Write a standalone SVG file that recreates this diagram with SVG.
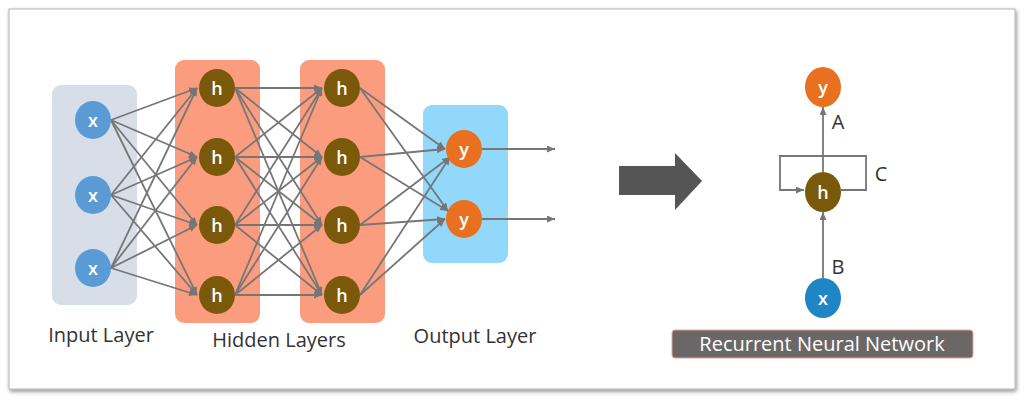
<svg xmlns="http://www.w3.org/2000/svg" width="1024" height="400" viewBox="0 0 1024 400">
<defs>
<marker id="ah" markerWidth="8" markerHeight="7" refX="8" refY="3.5" orient="auto" markerUnits="userSpaceOnUse">
<path d="M0,0 L8,3.5 L0,7 Z" fill="#767676"/>
</marker>
<filter id="sh" x="-5%" y="-5%" width="110%" height="110%">
<feGaussianBlur in="SourceAlpha" stdDeviation="2"/>
<feOffset dx="1" dy="2"/>
<feComponentTransfer><feFuncA type="linear" slope="0.45"/></feComponentTransfer>
<feMerge><feMergeNode/><feMergeNode in="SourceGraphic"/></feMerge>
</filter>
</defs>
<style>
.lbl{font-family:"Open Sans","Liberation Sans",sans-serif;font-size:20px;fill:#333;text-anchor:middle}
.nt{font-family:"Open Sans","Liberation Sans",sans-serif;font-size:18px;font-weight:600;fill:#fff;text-anchor:middle;dominant-baseline:central}
.c{stroke:#767676;stroke-width:1.8;fill:none;marker-end:url(#ah)}
.xn{fill:#5B9BD5}
.hn{fill:#7A5A0A}
.yn{fill:#E8701E}
</style>
<rect width="1024" height="400" fill="#fff"/>
<rect x="9" y="9" width="1006" height="380" fill="#fff" stroke="#b5b5b5" stroke-width="1" filter="url(#sh)"/>

<g id="panels">
<rect x="52" y="85" width="85" height="220" rx="9" fill="#D8DEE8"/>
<rect x="175" y="60" width="85" height="263" rx="9" fill="#FC9C7E"/>
<rect x="300" y="60" width="85" height="263" rx="9" fill="#FC9C7E"/>
<rect x="423" y="105" width="85" height="158" rx="9" fill="#92D8FA"/>
</g>

<g id="connectors">
<line class="c" x1="111" y1="120" x2="197" y2="88"/>
<line class="c" x1="111" y1="120" x2="197" y2="157"/>
<line class="c" x1="111" y1="120" x2="197" y2="225"/>
<line class="c" x1="111" y1="120" x2="197" y2="295"/>
<line class="c" x1="111" y1="195" x2="197" y2="88"/>
<line class="c" x1="111" y1="195" x2="197" y2="157"/>
<line class="c" x1="111" y1="195" x2="197" y2="225"/>
<line class="c" x1="111" y1="195" x2="197" y2="295"/>
<line class="c" x1="111" y1="268" x2="197" y2="88"/>
<line class="c" x1="111" y1="268" x2="197" y2="157"/>
<line class="c" x1="111" y1="268" x2="197" y2="225"/>
<line class="c" x1="111" y1="268" x2="197" y2="295"/>
<line class="c" x1="235" y1="88" x2="322" y2="88"/>
<line class="c" x1="235" y1="88" x2="322" y2="157"/>
<line class="c" x1="235" y1="88" x2="322" y2="225"/>
<line class="c" x1="235" y1="88" x2="322" y2="295"/>
<line class="c" x1="235" y1="157" x2="322" y2="88"/>
<line class="c" x1="235" y1="157" x2="322" y2="157"/>
<line class="c" x1="235" y1="157" x2="322" y2="225"/>
<line class="c" x1="235" y1="157" x2="322" y2="295"/>
<line class="c" x1="235" y1="225" x2="322" y2="88"/>
<line class="c" x1="235" y1="225" x2="322" y2="157"/>
<line class="c" x1="235" y1="225" x2="322" y2="225"/>
<line class="c" x1="235" y1="225" x2="322" y2="295"/>
<line class="c" x1="235" y1="295" x2="322" y2="88"/>
<line class="c" x1="235" y1="295" x2="322" y2="157"/>
<line class="c" x1="235" y1="295" x2="322" y2="225"/>
<line class="c" x1="235" y1="295" x2="322" y2="295"/>
<line class="c" x1="360" y1="88" x2="445" y2="149"/>
<line class="c" x1="360" y1="88" x2="448" y2="211"/>
<line class="c" x1="360" y1="157" x2="445" y2="149"/>
<line class="c" x1="360" y1="157" x2="448" y2="211"/>
<line class="c" x1="360" y1="225" x2="450" y2="157"/>
<line class="c" x1="360" y1="225" x2="445" y2="219"/>
<line class="c" x1="360" y1="295" x2="450" y2="157"/>
<line class="c" x1="360" y1="295" x2="445" y2="219"/>
<line class="c" x1="482" y1="149" x2="555" y2="149"/>
<line class="c" x1="482" y1="219" x2="555" y2="219"/>
<line class="c" x1="823" y1="172" x2="823" y2="107"/>
<line class="c" x1="823" y1="278" x2="823" y2="212"/>
<path class="c" d="M841,190 H866 V156 H780 V190 H804"/>
</g>

<g id="big-arrow">
<path d="M619,166 H675 V153 L702,181 L675,210 V195 H619 Z" fill="#555"/>
</g>

<g id="input-nodes">
<g id="x1"><ellipse class="xn" cx="93" cy="120" rx="18" ry="19"/><text class="nt" x="93" y="120">x</text></g>
<g id="x2"><ellipse class="xn" cx="93" cy="195" rx="18" ry="19"/><text class="nt" x="93" y="195">x</text></g>
<g id="x3"><ellipse class="xn" cx="93" cy="268" rx="18" ry="19"/><text class="nt" x="93" y="268">x</text></g>
</g>
<g id="hidden1">
<g id="h11"><ellipse class="hn" cx="217" cy="88" rx="18" ry="19"/><text class="nt" x="217" y="88">h</text></g>
<g id="h12"><ellipse class="hn" cx="217" cy="157" rx="18" ry="19"/><text class="nt" x="217" y="157">h</text></g>
<g id="h13"><ellipse class="hn" cx="217" cy="225" rx="18" ry="19"/><text class="nt" x="217" y="225">h</text></g>
<g id="h14"><ellipse class="hn" cx="217" cy="295" rx="18" ry="19"/><text class="nt" x="217" y="295">h</text></g>
</g>
<g id="hidden2">
<g id="h21"><ellipse class="hn" cx="342" cy="88" rx="18" ry="19"/><text class="nt" x="342" y="88">h</text></g>
<g id="h22"><ellipse class="hn" cx="342" cy="157" rx="18" ry="19"/><text class="nt" x="342" y="157">h</text></g>
<g id="h23"><ellipse class="hn" cx="342" cy="225" rx="18" ry="19"/><text class="nt" x="342" y="225">h</text></g>
<g id="h24"><ellipse class="hn" cx="342" cy="295" rx="18" ry="19"/><text class="nt" x="342" y="295">h</text></g>
</g>
<g id="outputs">
<g id="y1"><ellipse class="yn" cx="464" cy="149" rx="18" ry="19"/><text class="nt" x="464" y="149">y</text></g>
<g id="y2"><ellipse class="yn" cx="464" cy="219" rx="18" ry="19"/><text class="nt" x="464" y="219">y</text></g>
</g>

<g id="labels">
<text class="lbl" x="101" y="342">Input Layer</text>
<text class="lbl" x="279" y="347">Hidden Layers</text>
<text class="lbl" x="475" y="343">Output Layer</text>
</g>

<g id="rnn">
<g id="ry"><ellipse class="yn" cx="823" cy="87" rx="18" ry="20"/><text class="nt" x="823" y="87">y</text></g>
<g id="rh"><ellipse class="hn" cx="823" cy="192" rx="18" ry="20"/><text class="nt" x="823" y="192">h</text></g>
<g id="rx"><ellipse fill="#1E86C6" cx="823" cy="298" rx="18" ry="20"/><text class="nt" x="823" y="298">x</text></g>
<text class="lbl" x="838" y="129">A</text>
<text class="lbl" x="881" y="181">C</text>
<text class="lbl" x="838" y="274">B</text>
<g id="rnn-label">
<rect x="672" y="330" width="301" height="28" rx="3" fill="#6B6767" stroke="#E8A58E" stroke-width="1"/>
<text class="lbl" x="822" y="351" style="fill:#fff">Recurrent Neural Network</text>
</g>
</g>
</svg>
